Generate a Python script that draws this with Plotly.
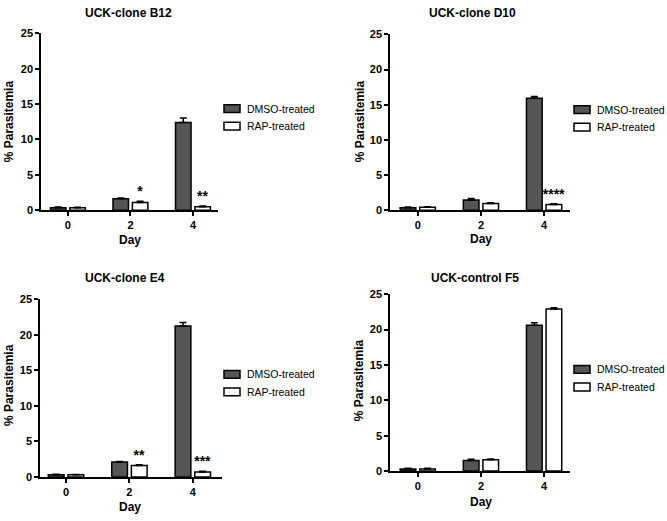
import plotly.graph_objects as go

W, H = 667, 521

days = ["0", "2", "4"]
titles = ["UCK-clone B12", "UCK-clone D10", "UCK-clone E4", "UCK-control F5"]
series_names = ["DMSO-treated", "RAP-treated"]

b12_dmso = [0.35, 1.6, 12.4]
b12_dmso_err = [0.1, 0.12, 0.65]
b12_rap = [0.35, 1.1, 0.5]
b12_rap_err = [0.08, 0.15, 0.1]
b12_sig = ["", "*", "**"]

d10_dmso = [0.35, 1.45, 15.9]
d10_dmso_err = [0.1, 0.2, 0.25]
d10_rap = [0.4, 0.95, 0.8]
d10_rap_err = [0.08, 0.1, 0.12]
d10_sig = ["", "", "****"]

e4_dmso = [0.3, 2.1, 21.2]
e4_dmso_err = [0.08, 0.08, 0.5]
e4_rap = [0.3, 1.6, 0.7]
e4_rap_err = [0.05, 0.12, 0.1]
e4_sig = ["", "**", "***"]

f5_dmso = [0.3, 1.5, 20.6]
f5_dmso_err = [0.08, 0.15, 0.35]
f5_rap = [0.3, 1.6, 22.9]
f5_rap_err = [0.08, 0.12, 0.2]
f5_sig = ["", "", ""]

yticks = [0, 5, 10, 15, 20, 25]

panels = [
    (b12_dmso, b12_dmso_err, b12_rap, b12_rap_err, b12_sig),
    (d10_dmso, d10_dmso_err, d10_rap, d10_rap_err, d10_sig),
    (e4_dmso, e4_dmso_err, e4_rap, e4_rap_err, e4_sig),
    (f5_dmso, f5_dmso_err, f5_rap, f5_rap_err, f5_sig),
]

# layout geometry in pixels: (x_left, x_right, y_top(25), y_bottom(0), xrange)
geom = [
    (41, 218, 28, 209, [-0.43, 2.40]),
    (390, 570, 29, 209, [-0.44, 2.41]),
    (40, 222, 300, 482, [-0.41, 2.46]),
    (390, 570, 295, 476, [-0.44, 2.41]),
]
title_pos = [(128, 7), (473, 7), (125, 278), (475, 278)]
day_pos = [(130, 240), (481, 239), (130, 513), (481, 508)]
ytitle_pos = [(9, 118), (360, 118), (9, 388), (359, 383)]
legend_pos = [(224, 105, 123), (574, 106, 124), (224, 377, 395), (574, 372, 390)]

FONT = "Liberation Sans, Arial, sans-serif"
DARK = "#555555"


def px(x):
    return x / W


def py(y):
    return 1 - y / H


fig = go.Figure()
layout = dict(
    width=W, height=H, margin=dict(l=0, r=0, t=0, b=0),
    paper_bgcolor="white", plot_bgcolor="white",
    barmode="group", bargap=0.38, bargroupgap=0.2,
    showlegend=False, font=dict(family=FONT, color="black"),
)
annotations = []
shapes = []

for i, (dm, dme, rp, rpe, sig) in enumerate(panels):
    xl, xr, yt, yb, xr_range = geom[i]
    suffix = "" if i == 0 else str(i + 1)
    xa, ya = "x" + suffix, "y" + suffix
    fig.add_trace(go.Bar(
        x=days, y=dm, name=series_names[0], xaxis=xa, yaxis=ya,
        marker=dict(color=DARK, line=dict(color="black", width=1.5)),
        error_y=dict(type="data", array=dme, arrayminus=[0] * len(dme), symmetric=False,
                     color="black", thickness=1.5, width=3.5),
    ))
    fig.add_trace(go.Bar(
        x=days, y=rp, name=series_names[1], xaxis=xa, yaxis=ya,
        marker=dict(color="white", line=dict(color="black", width=1.5)),
        error_y=dict(type="data", array=rpe, arrayminus=[0] * len(rpe), symmetric=False,
                     color="black", thickness=1.5, width=3.5),
        text=sig, textposition="outside", cliponaxis=False, constraintext="none",
        textfont=dict(family=FONT, size=14, color="black", weight="bold"),
    ))
    axis_common = dict(showline=True, linecolor="black", linewidth=1.5, ticks="outside",
                       ticklen=4, tickwidth=1.5, tickcolor="black", showgrid=False,
                       zeroline=False,
                       tickfont=dict(family=FONT, size=11, color="black", weight="bold"))
    layout["xaxis" + suffix] = dict(domain=[px(xl), px(xr)], anchor=ya, type="category",
                                    range=xr_range, **axis_common)
    layout["yaxis" + suffix] = dict(domain=[py(yb), py(yt)], anchor=xa, range=[0, 25],
                                    tickvals=yticks, **axis_common)

    tx, ty = title_pos[i]
    annotations.append(dict(text=titles[i], x=px(tx), y=py(ty), xref="paper", yref="paper",
                            showarrow=False, xanchor="center", yanchor="middle",
                            font=dict(family=FONT, size=12, color="black", weight="bold")))
    dx, dy = day_pos[i]
    annotations.append(dict(text="Day", x=px(dx), y=py(dy), xref="paper", yref="paper",
                            showarrow=False, xanchor="center", yanchor="middle",
                            font=dict(family=FONT, size=12, color="black", weight="bold")))
    yx, yy = ytitle_pos[i]
    annotations.append(dict(text="% Parasitemia", x=px(yx), y=py(yy), xref="paper", yref="paper",
                            showarrow=False, xanchor="center", yanchor="middle", textangle=-90,
                            font=dict(family=FONT, size=12, color="black", weight="bold")))
    lx, l1, l2 = legend_pos[i]
    for yc, fill, name in [(l1, DARK, series_names[0]), (l2, "white", series_names[1])]:
        shapes.append(dict(type="rect", xref="paper", yref="paper",
                           x0=px(lx), x1=px(lx + 16), y0=py(yc + 4), y1=py(yc - 4),
                           fillcolor=fill, line=dict(color="black", width=1.5)))
        annotations.append(dict(text=name, x=px(lx + 21), y=py(yc), xref="paper", yref="paper",
                                showarrow=False, xanchor="left", yanchor="middle",
                                font=dict(family=FONT, size=10.5, color="black")))

layout["annotations"] = annotations
layout["shapes"] = shapes
fig.update_layout(**layout)
fig.write_html("out.html")
